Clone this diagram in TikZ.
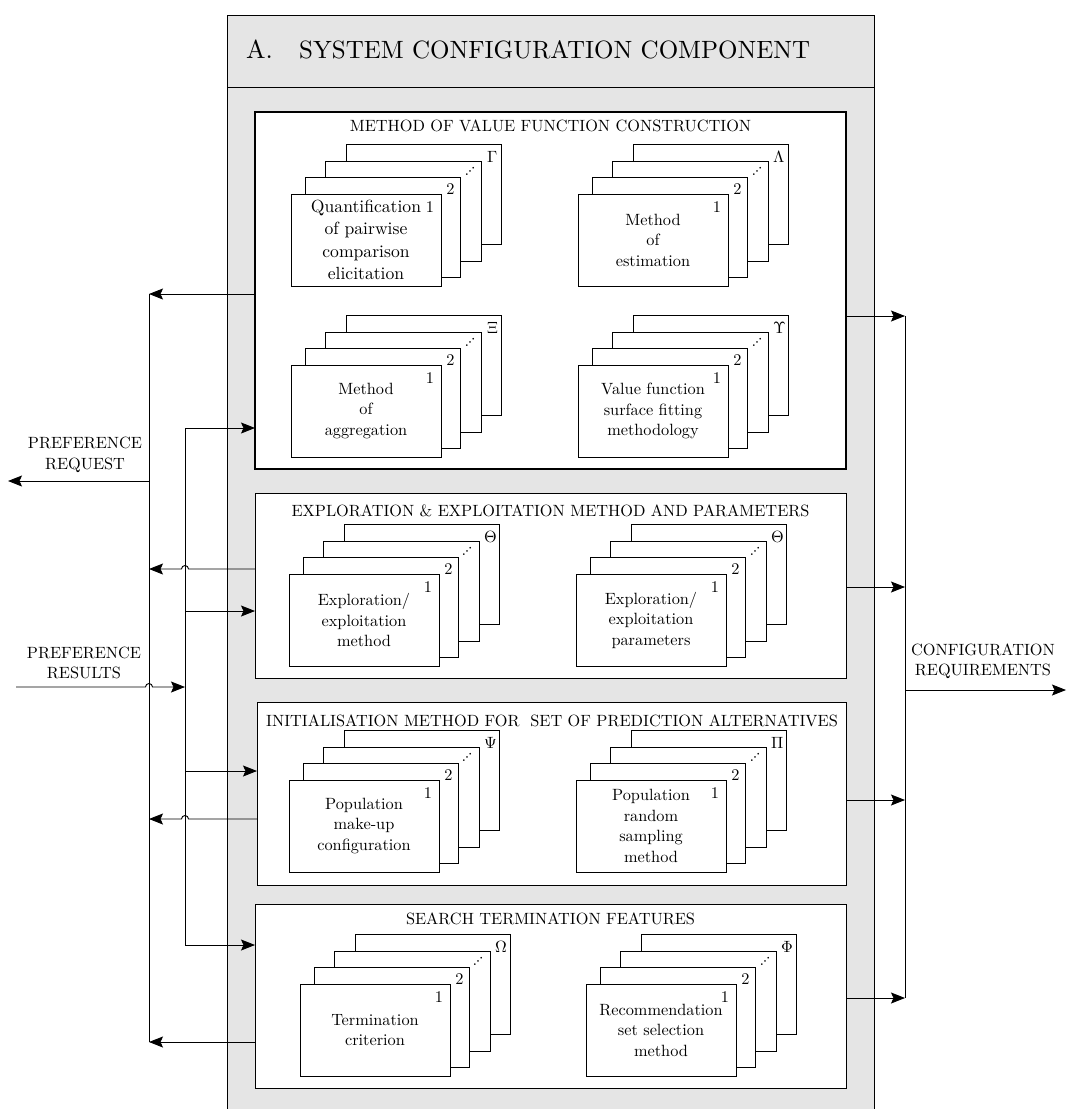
\documentclass[tikz,border=0pt]{standalone}
\usepackage{fontspec}
\usepackage{unicode-math}
\setmainfont{lmroman10-regular.otf}
\usepackage{graphicx}
\usetikzlibrary{arrows.meta,calc}
\newcommand\mytxt{\fontsize{16.3}{20.5}\selectfont}
\newcommand\bigtxt{\fontsize{17.6}{22.3}\selectfont}
\tikzset{
 ln/.style={line width=0.9pt},
 arr/.style={ln,-{Stealth[length=14pt,width=11pt,inset=2.5pt]}},
 secbox/.style={draw,fill=white,ln,inner sep=0pt,outer sep=0pt,anchor=north west},
 card/.style={draw,fill=white,ln},
 frontcard/.style={card,inner sep=0pt,outer sep=0pt,anchor=north west,minimum width=150pt,minimum height=92pt,align=center,font=\mytxt},
 lbl/.style={inner sep=0pt,font=\mytxt,align=center},
 ttl/.style={inner sep=0pt,font=\mytxt,anchor=base},
}
\newcommand\cardstack[6][\mytxt]{%
 \draw[card] (#3+55,#4-49.5) rectangle (#3+210.5,#4+50.5);
 \node[lbl] at (#3+201.5,#4-37.5) {$#6$};
 \draw[card] (#3+34.5,#4-33) rectangle (#3+190,#4+67);
 \node[lbl] at (#3+179,#4-23) {\reflectbox{$\ddots$}};
 \draw[card] (#3+14,#4-16.5) rectangle (#3+169.5,#4+83.5);
 \node[lbl] at (#3+159.5,#4-4.5) {2};
 \node[frontcard,font=#1] (#2) at (#3,#4) {#5};
 \node[lbl] at (#3+139,#4+13) {1};
}
\begin{document}
\begin{tikzpicture}[x=1pt,y=-1pt]
\useasboundingbox (0,0) rectangle (1067,1109);
\clip (0,0) rectangle (1067,1109);
% container
\node[draw,fill=black!10,ln,minimum width=647pt,minimum height=1120pt,anchor=north west,inner sep=0pt] (gb) at (227,15) {};
\draw[ln] (227,87) -- (874,87);
\node[anchor=base west,inner sep=0pt,font=\fontsize{26}{30}\selectfont] (hA) at (246,58) {A.};
\node[anchor=base west,inner sep=0pt,font=\fontsize{25}{30}\selectfont] (hT) at (299,58) {SYSTEM CONFIGURATION COMPONENT};
% sections
\node[secbox,line width=1.6pt,minimum width=591pt,minimum height=357pt] (s1) at (255,112) {};
\node[secbox,minimum width=591pt,minimum height=185pt] (s2) at (255,493) {};
\node[secbox,minimum width=589pt,minimum height=183pt] (s3) at (257,702) {};
\node[secbox,minimum width=591pt,minimum height=184pt] (s4) at (255,904) {};
\node[ttl] (t1) at (550.5,131.5) {METHOD OF VALUE FUNCTION CONSTRUCTION};
\node[ttl] (t2) at (550.5,516) {EXPLORATION \& EXPLOITATION METHOD AND PARAMETERS};
\node[ttl] (t3) at (552,726) {INITIALISATION METHOD FOR~ SET OF PREDICTION ALTERNATIVES};
\node[ttl] (t4) at (550.5,924) {SEARCH TERMINATION FEATURES};
% card stacks
\cardstack[\bigtxt]{c1}{291}{194}{Quantification\\of pairwise\\comparison\\elicitation}{\Gamma}
\cardstack{c2}{578}{194}{Method\\of\\estimation}{\Lambda}
\cardstack{c3}{291}{365}{Method\\of\\aggregation}{\Xi}
\cardstack{c4}{578}{365}{Value function\\surface fitting\\methodology}{\Upsilon}
\cardstack{c5}{289}{574}{Exploration/\\exploitation\\method}{\Theta}
\cardstack{c6}{576}{574}{Exploration/\\exploitation\\parameters}{\Theta}
\cardstack{c7}{289}{780}{Population\\make-up\\configuration}{\Psi}
\cardstack{c8}{576}{780}{Population\\random\\sampling\\method}{\Pi}
\cardstack{c9}{300}{984}{Termination\\criterion}{\Omega}
\cardstack{c10}{586}{984}{Recommendation\\set selection\\method}{\Phi}
% bus coordinates
\coordinate (Lt) at (149,294);
\coordinate (L2) at (149,569);
\coordinate (L3) at (149,819);
\coordinate (Lb) at (149,1042);
\coordinate (Lr) at (149,481);
\coordinate (reqend) at (8,481);
\coordinate (It) at (185,428);
\coordinate (I2) at (185,611);
\coordinate (I3) at (185,771);
\coordinate (Ib) at (185,945);
\coordinate (Iin) at (185,687);
\coordinate (resstart) at (16,687);
\coordinate (Rt) at (905,316);
\coordinate (R2) at (905,587);
\coordinate (R3) at (905,800);
\coordinate (Rb) at (905,998);
\coordinate (Ro) at (905,690);
\coordinate (outend) at (1066,690);
% buses
\draw[ln] (Lt) -- (Lb);
\draw[ln] (It) -- (Ib);
\draw[ln] (Rt) -- (Rb);
% feedback to preference request bus
\draw[arr] (s1.west |- Lt) -- (Lt);
\draw[arr] (s2.west |- L2) -- ($(I2 |- L2)+(3.5,0)$) arc[start angle=0,end angle=180,radius=3.5pt] -- (L2);
\draw[arr] (s3.west |- L3) -- ($(I3 |- L3)+(3.5,0)$) arc[start angle=0,end angle=180,radius=3.5pt] -- (L3);
\draw[arr] (s4.west |- Lb) -- (Lb);
\draw[arr] (Lr) -- (reqend);
\node[lbl] (req) at (85,455) {PREFERENCE\\REQUEST};
% preference results bus
\draw[arr] (resstart) -- ($(Lr |- Iin)+(-3.5,0)$) arc[start angle=180,end angle=0,radius=3.5pt] -- (Iin);
\node[lbl] (res) at (84,663) {PREFERENCE\\RESULTS};
\draw[arr] (It) -- (s1.west |- It);
\draw[arr] (I2) -- (s2.west |- I2);
\draw[arr] (I3) -- (s3.west |- I3);
\draw[arr] (Ib) -- (s4.west |- Ib);
% configuration requirements bus
\draw[arr] (s1.east |- Rt) -- (Rt);
\draw[arr] (s2.east |- R2) -- (R2);
\draw[arr] (s3.east |- R3) -- (R3);
\draw[arr] (s4.east |- Rb) -- (Rb);
\draw[arr] (Ro) -- (outend);
\node[lbl] (cfg) at (983,661) {CONFIGURATION\\REQUIREMENTS};
\end{tikzpicture}
\end{document}
